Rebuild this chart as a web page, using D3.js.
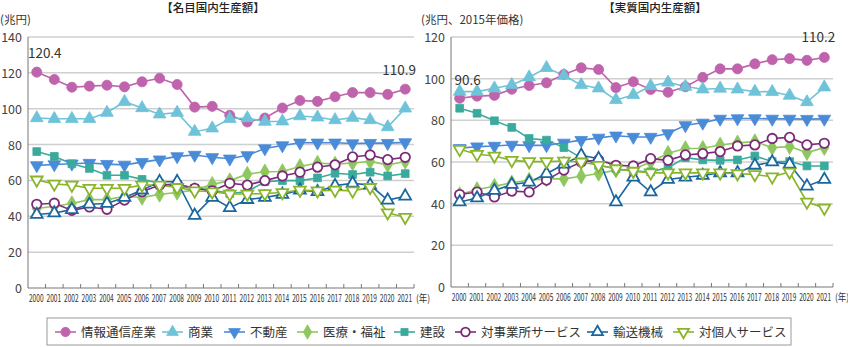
<!DOCTYPE html>
<html>
<head>
<meta charset="utf-8">
<script src="https://cdn.jsdelivr.net/npm/d3@7"></script>
<style>
  body { margin: 0; background: #fff; }
  svg { display: block; font-family: "Noto Sans CJK JP", "Noto Sans", sans-serif; }
</style>
</head>
<body>
<div id="chart"></div>
<script>
var years = ["2000","2001","2002","2003","2004","2005","2006","2007","2008","2009","2010",
             "2011","2012","2013","2014","2015","2016","2017","2018","2019","2020","2021"];

var seriesNames = ["情報通信産業", "商業", "不動産", "医療・福祉", "建設", "対事業所サービス", "輸送機械", "対個人サービス"];

// 名目国内生産額 (兆円)
var nomICT      = [120.4,116.3,112.0,112.6,113.1,112.2,115.0,117.0,113.5,100.9,101.3,96.3,92.6,94.8,100.4,104.6,104.1,106.7,109.0,109.0,108.0,110.9];
var nomTrade    = [94.8,94.4,94.4,94.4,97.8,103.9,100.4,96.9,97.8,87.2,89.1,94.4,94.8,92.8,93.0,95.9,95.2,93.7,95.0,93.7,89.8,100.2];
var nomRealty   = [68.4,68.9,69.3,69.7,69.1,68.7,70.2,71.6,73.4,74.2,72.9,72.1,74.0,77.8,79.5,81.0,81.0,81.0,80.6,80.8,80.8,81.2];
var nomMedical  = [44.3,45.6,47.1,49.3,49.3,51.2,50.5,52.2,53.3,54.6,57.8,59.9,63.5,64.8,65.0,67.8,69.7,69.1,69.7,70.6,68.7,70.6];
var nomBuild    = [76.1,73.4,69.3,66.7,62.9,62.9,60.6,58.4,56.5,55.6,54.6,52.7,53.7,59.3,59.9,59.9,61.4,64.0,63.3,64.6,62.5,63.8];
var nomBizSvc   = [46.7,47.3,43.3,45.2,43.9,49.0,53.7,57.4,58.0,55.6,54.2,58.4,57.4,59.9,62.5,64.6,67.4,68.7,73.1,74.2,71.6,72.9];
var nomTransp   = [41.0,41.8,43.7,46.7,47.1,50.5,54.6,59.3,59.3,40.5,50.5,44.8,49.3,50.5,52.2,54.6,53.7,57.1,58.4,57.4,49.0,51.2];
var nomPersSvc  = [60.3,58.0,57.4,55.6,55.6,55.6,57.4,57.4,56.1,54.2,53.7,52.4,52.4,52.7,53.3,54.6,54.2,54.6,54.2,56.1,42.0,39.5];

// 実質国内生産額 (兆円、2015年価格)
var realICT     = [90.6,91.6,92.0,94.9,96.7,98.0,102.0,105.2,104.4,95.7,98.5,94.8,93.5,96.1,100.6,104.7,104.7,107.1,109.1,109.6,108.8,110.2];
var realTrade   = [93.8,93.8,95.4,97.0,100.7,105.2,101.5,97.0,95.4,89.8,92.2,96.5,98.2,96.2,94.9,95.3,94.9,93.8,93.7,91.9,88.8,95.9];
var realRealty  = [66.6,67.4,67.7,68.2,68.0,68.0,69.2,70.5,71.6,72.6,72.0,72.0,73.7,77.6,78.8,80.7,80.9,80.9,80.7,80.7,80.6,80.7];
var realMedical = [44.4,46.8,48.4,50.0,51.3,51.9,51.9,53.2,54.5,56.1,56.5,60.0,64.2,66.5,66.6,68.2,69.2,69.8,66.9,67.4,64.5,66.9];
var realBuild   = [85.8,83.4,79.8,76.6,71.3,70.5,66.9,62.0,58.4,56.8,55.6,55.3,57.3,62.1,61.0,60.8,61.0,62.9,60.2,60.2,58.1,58.1];
var realBizSvc  = [44.4,45.6,43.2,46.0,45.6,51.3,56.1,60.0,61.0,58.4,58.1,61.6,60.8,63.4,64.0,65.0,67.7,68.2,71.3,71.8,68.2,69.0];
var realTransp  = [40.8,42.7,46.3,49.2,50.3,54.4,58.9,63.2,61.6,40.8,52.7,45.6,51.6,52.7,53.5,54.8,54.8,58.4,60.0,58.9,48.4,51.6];
var realPersSvc = [66.1,63.7,62.9,60.8,60.2,60.2,60.5,60.0,58.4,56.8,55.6,54.8,54.8,54.8,54.8,54.8,54.4,54.0,52.9,55.2,40.8,37.9];

var nomTicks = [0, 20, 40, 60, 80, 100, 120, 140];
var realTicks = [0, 20, 40, 60, 80, 100, 120];

var nominal = [nomICT, nomTrade, nomRealty, nomMedical, nomBuild, nomBizSvc, nomTransp, nomPersSvc];
var real = [realICT, realTrade, realRealty, realMedical, realBuild, realBizSvc, realTransp, realPersSvc];

// marker styles per series
var styles = [
    { color: "#bf63ad", symbol: d3.symbolCircle,   size: 80, open: false, rot: 0 },
    { color: "#6fc3d8", symbol: d3.symbolTriangle, size: 70, open: false, rot: 0 },
    { color: "#4a8bd8", symbol: d3.symbolTriangle, size: 70, open: false, rot: 180 },
    { color: "#8fc75f", symbol: d3.symbolDiamond,  size: 70, open: false, rot: 0 },
    { color: "#3aaa9c", symbol: d3.symbolSquare,   size: 60, open: false, rot: 0 },
    { color: "#7d2a78", symbol: d3.symbolCircle,   size: 70, open: true,  rot: 0 },
    { color: "#1a679f", symbol: d3.symbolTriangle, size: 60, open: true,  rot: 0 },
    { color: "#8ab52b", symbol: d3.symbolTriangle, size: 60, open: true,  rot: 180 }
];

var W = 848, H = 347;
var svg = d3.select("#chart").append("svg")
    .attr("width", W)
    .attr("height", H);

function drawPanel(opts) {
    var x = d3.scaleBand().domain(years).range([opts.x0, opts.x1]);
    var y = d3.scaleLinear().domain([0, opts.max]).range([opts.y0, opts.y1]);
    var g = svg.append("g");

    // title
    g.append("text")
        .attr("x", opts.titleX).attr("y", 12)
        .attr("text-anchor", "middle")
        .attr("font-size", "11.5px")
        .attr("font-weight", 500)
        .attr("fill", "#222")
        .text(opts.title);

    // unit
    g.append("text")
        .attr("x", opts.unitX).attr("y", 24)
        .attr("font-size", "11.5px")
        .attr("fill", "#333")
        .text(opts.unit);

    // grid lines
    opts.ticks.forEach(function (t) {
        if (t === 0) return;
        g.append("line")
            .attr("x1", opts.x0).attr("x2", opts.x1)
            .attr("y1", y(t)).attr("y2", y(t))
            .attr("stroke", "#cfcfcf")
            .attr("stroke-width", 1.5);
    });

    // y tick labels
    opts.ticks.forEach(function (t) {
        g.append("text")
            .attr("x", opts.x0 - 6).attr("y", y(t) + 5)
            .attr("text-anchor", "end")
            .attr("font-size", "12.5px")
            .attr("fill", "#444")
            .text(t);
    });

    // axes lines
    g.append("line")
        .attr("x1", opts.x0).attr("x2", opts.x0)
        .attr("y1", y(opts.max)).attr("y2", opts.y0)
        .attr("stroke", "#777").attr("stroke-width", 1);
    g.append("line")
        .attr("x1", opts.x0).attr("x2", opts.x1)
        .attr("y1", opts.y0).attr("y2", opts.y0)
        .attr("stroke", "#777").attr("stroke-width", 1);

    // x ticks at band boundaries, condensed year labels
    years.forEach(function (yr, i) {
        var bx = x(yr) + x.bandwidth();
        g.append("line")
            .attr("x1", bx).attr("x2", bx)
            .attr("y1", opts.y0).attr("y2", opts.y0 - 4)
            .attr("stroke", "#777");
        var cx = x(yr) + x.bandwidth() / 2 - 0.5;
        g.append("text")
            .attr("transform", "translate(" + cx + "," + (opts.y0 + 14) + ") scale(0.66,1)")
            .attr("text-anchor", "middle")
            .attr("font-size", "10px")
            .attr("fill", "#333")
            .text(yr);
    });
    g.append("text")
        .attr("transform", "translate(" + (opts.x1 + 2) + "," + (opts.y0 + 14) + ") scale(0.85,1)")
        .attr("font-size", "10px")
        .attr("fill", "#333")
        .text("(年)");

    var line = d3.line()
        .x(function (d, i) { return x(years[i]) + x.bandwidth() / 2; })
        .y(function (d) { return y(d); });

    opts.data.forEach(function (vals, s) {
        var st = styles[s];
        g.append("path")
            .datum(vals)
            .attr("d", line)
            .attr("fill", "none")
            .attr("stroke", st.color)
            .attr("stroke-width", 1.6);
    });

    opts.data.forEach(function (vals, s) {
        var st = styles[s];
        var sym = d3.symbol().type(st.symbol).size(st.size);
        g.selectAll(null)
            .data(vals)
            .enter().append("path")
            .attr("d", sym)
            .attr("transform", function (d, i) {
                return "translate(" + (x(years[i]) + x.bandwidth() / 2) + "," + y(d) + ") rotate(" + st.rot + ")";
            })
            .attr("fill", st.open ? "#fff" : st.color)
            .attr("stroke", st.color)
            .attr("stroke-width", st.open ? 1.8 : 0.8);
    });

    // value labels for first and last ICT points
    var first = opts.data[0][0], last = opts.data[0][years.length - 1];
    g.append("text")
        .attr("x", x(years[0]) + x.bandwidth() / 2 + opts.firstDx)
        .attr("y", y(first) + opts.firstDy)
        .attr("text-anchor", "middle")
        .attr("font-size", "13.5px")
        .attr("fill", "#333")
        .text(first.toFixed(1));
    g.append("text")
        .attr("x", x(years[years.length - 1]) + x.bandwidth() / 2 + opts.lastDx)
        .attr("y", y(last) + opts.lastDy)
        .attr("text-anchor", "middle")
        .attr("font-size", "13.5px")
        .attr("fill", "#333")
        .text(last.toFixed(1));
}

drawPanel({
    data: nominal, max: 140, ticks: nomTicks,
    x0: 28, x1: 414, y0: 288, y1: 37,
    title: "【名目国内生産額】", titleX: 213,
    unit: "(兆円)", unitX: 0,
    firstDx: 8, firstDy: -14, lastDx: -6, lastDy: -14
});

drawPanel({
    data: real, max: 120, ticks: realTicks,
    x0: 451, x1: 833, y0: 287, y1: 37,
    title: "【実質国内生産額】", titleX: 655,
    unit: "(兆円、2015年価格)", unitX: 421,
    firstDx: 8, firstDy: -13, lastDx: -6, lastDy: -15
});

// legend
var legendX = [55, 162, 224, 297, 394, 455, 587, 673];
var legendY = 332;
svg.append("rect")
    .attr("x", 47).attr("y", 318)
    .attr("width", 744).attr("height", 27)
    .attr("fill", "#fff")
    .attr("stroke", "#999")
    .attr("stroke-width", 1);

seriesNames.forEach(function (name, s) {
    var st = styles[s];
    var lx = legendX[s];
    svg.append("line")
        .attr("x1", lx).attr("x2", lx + 21)
        .attr("y1", legendY).attr("y2", legendY)
        .attr("stroke", st.color).attr("stroke-width", 1.6);
    svg.append("path")
        .attr("d", d3.symbol().type(st.symbol).size(st.size * 0.85)())
        .attr("transform", "translate(" + (lx + 10.5) + "," + legendY + ") rotate(" + st.rot + ")")
        .attr("fill", st.open ? "#fff" : st.color)
        .attr("stroke", st.color)
        .attr("stroke-width", st.open ? 1.8 : 0.8);
    svg.append("text")
        .attr("x", lx + 26).attr("y", legendY + 4.5)
        .attr("font-size", "12.5px")
        .attr("fill", "#333")
        .text(name);
});
</script>
</body>
</html>
